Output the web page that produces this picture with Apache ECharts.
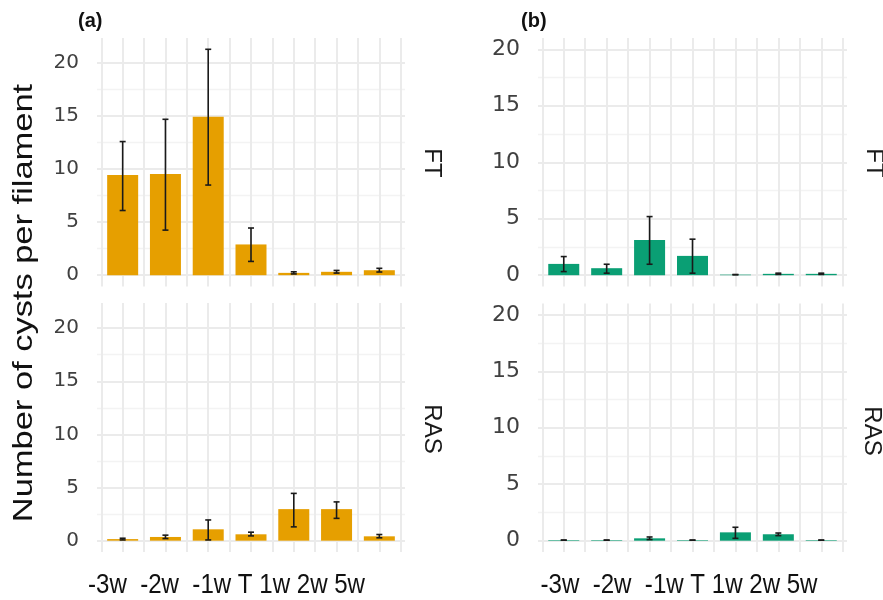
<!DOCTYPE html>
<html>
<head>
<meta charset="utf-8">
<script src="https://cdn.jsdelivr.net/npm/echarts@6/dist/echarts.min.js"></script>
<style>
  html, body { margin: 0; padding: 0; background: #ffffff; }
  #chart { width: 883px; height: 600px; }
</style>
</head>
<body>
<div id="chart"></div>
<script>
// Sampling times and facet rows
const categories = ['-3w', '-2w', '-1w', 'T', '1w', '2w', '5w'];
const facetRows = ['FT', 'RAS'];
const panelTags = ['(a)', '(b)'];
const yTicks = [0, 5, 10, 15, 20];
const yMinorTicks = [2.5, 7.5, 12.5, 17.5];
const yTitle = 'Number of cysts per filament';

// (a) mean cysts per filament with error bar limits
const aFTMean  = [9.45, 9.55, 14.95, 2.9, 0.22, 0.32, 0.47];
const aFTLow   = [6.1, 4.25, 8.5, 1.3, 0.12, 0.2, 0.3];
const aFTHigh  = [12.6, 14.7, 21.3, 4.45, 0.32, 0.45, 0.65];
const aRASMean = [0.15, 0.35, 1.07, 0.6, 2.97, 2.97, 0.41];
const aRASLow  = [0.07, 0.2, 0.07, 0.45, 1.3, 2.1, 0.27];
const aRASHigh = [0.23, 0.52, 1.95, 0.8, 4.45, 3.65, 0.58];

// (b) mean cysts per filament with error bar limits
const bFTMean  = [1.0, 0.62, 3.12, 1.71, 0.05, 0.12, 0.12];
const bFTLow   = [0.32, 0.18, 0.97, 0.18, 0.05, 0.07, 0.07];
const bFTHigh  = [1.65, 0.97, 5.19, 3.19, 0.05, 0.18, 0.18];
const bRASMean = [0.05, 0.05, 0.21, 0.05, 0.74, 0.57, 0.05];
const bRASLow  = [0.05, 0.05, 0.1, 0.05, 0.21, 0.45, 0.05];
const bRASHigh = [0.05, 0.05, 0.33, 0.05, 1.19, 0.68, 0.05];
const bLimits = [0, 20];

// 5% padding on both ends of a continuous range
function expand(lo, hi) {
  const p = (hi - lo) * 0.05;
  return [lo - p, hi + p];
}
const aRange = expand(0, Math.max(...aFTHigh, ...aRASHigh));
const bRange = expand(bLimits[0], bLimits[1]);

// discrete x scale: categories at 1..n, padded by 0.6
const xMin = 1 - 0.6;
const xMax = categories.length + 0.6;
const xCenters = categories.map((c, k) => k + 1);
const xGridValues = [];
for (let k = 0; k <= categories.length; k++) {
  xGridValues.push(k + 0.5);
  if (k < categories.length) xGridValues.push(k + 1);
}

const ORANGE = '#E69F00';
const GREEN = '#0A9F74';

const panels = [
  { grid: { left: 97, top: 38, width: 308, height: 248.5 }, mean: aFTMean, low: aFTLow, high: aFTHigh, color: ORANGE, range: aRange, tickSize: 20 },
  { grid: { left: 97, top: 303, width: 308, height: 249 }, mean: aRASMean, low: aRASLow, high: aRASHigh, color: ORANGE, range: aRange, tickSize: 20 },
  { grid: { left: 538, top: 38, width: 309, height: 248.5 }, mean: bFTMean, low: bFTLow, high: bFTHigh, color: GREEN, range: bRange, tickSize: 22 },
  { grid: { left: 538, top: 303.5, width: 309, height: 248.5 }, mean: bRASMean, low: bRASLow, high: bRASHigh, color: GREEN, range: bRange, tickSize: 22 }
];

function renderErrorBar(params, api) {
  const x = api.value(0);
  const lo = api.coord([x, api.value(1)]);
  const hi = api.coord([x, api.value(2)]);
  const cap = 3;
  const style = { stroke: '#1a1a1a', lineWidth: 1.6 };
  return {
    type: 'group',
    children: [
      { type: 'line', shape: { x1: lo[0], y1: lo[1], x2: hi[0], y2: hi[1] }, style: style },
      { type: 'line', shape: { x1: lo[0] - cap, y1: lo[1], x2: lo[0] + cap, y2: lo[1] }, style: style },
      { type: 'line', shape: { x1: hi[0] - cap, y1: hi[1], x2: hi[0] + cap, y2: hi[1] }, style: style }
    ]
  };
}

const grids = [], xAxes = [], yAxes = [], series = [];
panels.forEach((p, i) => {
  grids.push(Object.assign({ containLabel: false }, p.grid));
  xAxes.push({
    type: 'value', gridIndex: i, min: xMin, max: xMax,
    axisLine: { show: false },
    axisLabel: { show: false },
    axisTick: { show: false, customValues: xGridValues },
    splitLine: { show: true, lineStyle: { color: '#ebebeb', width: 2 } }
  });
  yAxes.push({
    type: 'value', gridIndex: i, min: p.range[0], max: p.range[1], position: 'left',
    axisLine: { show: false, onZero: false },
    axisTick: { show: false, customValues: yTicks },
    axisLabel: {
      customValues: yTicks, margin: 18, color: '#404040', align: 'right',
      fontFamily: 'DejaVu Sans', fontSize: p.tickSize
    },
    splitLine: { show: true, lineStyle: { color: '#ebebeb', width: 2 } }
  });
  yAxes.push({
    type: 'value', gridIndex: i, min: p.range[0], max: p.range[1], position: 'right',
    axisLine: { show: false, onZero: false },
    axisTick: { show: false, customValues: yMinorTicks },
    axisLabel: { show: false },
    splitLine: { show: true, lineStyle: { color: '#f3f3f3', width: 1.3 } }
  });
  series.push({
    type: 'bar', xAxisIndex: i, yAxisIndex: 2 * i,
    barWidth: 31, silent: true,
    itemStyle: { color: p.color },
    data: xCenters.map((x, k) => [x, p.mean[k]]),
    z: 2
  });
  series.push({
    type: 'custom', xAxisIndex: i, yAxisIndex: 2 * i,
    renderItem: renderErrorBar, silent: true,
    encode: { x: 0, y: [1, 2] },
    data: xCenters.map((x, k) => [x, p.low[k], p.high[k]]),
    z: 3
  });
});

const xLabelText = categories.slice(0, 3).join('  ') + ' ' + categories.slice(3).join(' ');
const textFont = { fontFamily: 'Liberation Sans', fill: '#111111' };

const graphics = [
  { type: 'text', left: 78, top: 11, style: Object.assign({}, textFont, { text: panelTags[0], fontSize: 20, fontWeight: 'bold' }) },
  { type: 'text', left: 521, top: 11, style: Object.assign({}, textFont, { text: panelTags[1], fontSize: 20, fontWeight: 'bold' }) },
  { type: 'text', x: 24, y: 303, rotation: Math.PI / 2, scaleX: 1.23,
    style: Object.assign({}, textFont, { text: yTitle, fontSize: 28, align: 'center', verticalAlign: 'middle' }) },
  { type: 'text', x: 226.5, y: 585, scaleX: 0.86,
    style: Object.assign({}, textFont, { text: xLabelText, fontSize: 28, align: 'center', verticalAlign: 'middle' }) },
  { type: 'text', x: 679, y: 585, scaleX: 0.86,
    style: Object.assign({}, textFont, { text: xLabelText, fontSize: 28, align: 'center', verticalAlign: 'middle' }) }
];
// facet strip labels on the right of each panel
[[432, 163], [432, 429], [874, 163], [872, 431]].forEach((pos, i) => {
  graphics.push({
    type: 'text', x: pos[0], y: pos[1], rotation: -Math.PI / 2,
    style: Object.assign({}, textFont, { text: facetRows[i % 2], fontSize: 24, fill: '#1a1a1a', align: 'center', verticalAlign: 'middle' })
  });
});

const chart = echarts.init(document.getElementById('chart'), null, { renderer: 'canvas' });
chart.setOption({
  backgroundColor: '#ffffff',
  animation: false,
  grid: grids,
  xAxis: xAxes,
  yAxis: yAxes,
  series: series,
  graphic: graphics
});
</script>
</body>
</html>
